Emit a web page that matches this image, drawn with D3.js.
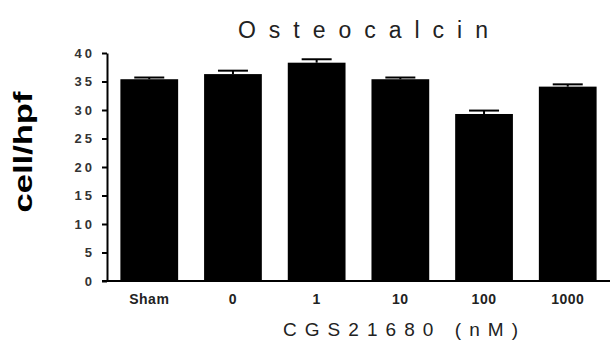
<!DOCTYPE html>
<html>
<head>
<meta charset="utf-8">
<script src="https://cdn.jsdelivr.net/npm/d3@7"></script>
<style>
  body { margin: 0; background: #fff; }
  svg { display: block; font-family: "Liberation Sans", Arial, sans-serif; }
</style>
</head>
<body>
<svg width="610" height="343"></svg>
<script>
const categories = ['Sham', '0', '1', '10', '100', '1000'];
const means = [35.4, 36.3, 38.3, 35.4, 29.3, 34.1];
const errors = [0.3, 0.6, 0.6, 0.3, 0.6, 0.4];
const yTicks = [0, 5, 10, 15, 20, 25, 30, 35, 40];

const svg = d3.select('svg');
const margin = { left: 107, top: 53, right: 0, bottom: 62 };
const width = +svg.attr('width');
const height = +svg.attr('height');
const innerWidth = width - margin.left - margin.right;
const innerHeight = height - margin.top - margin.bottom;

const g = svg.append('g')
  .attr('transform', `translate(${margin.left},${margin.top})`);

// scales
const xScale = d3.scaleBand()
  .domain(categories)
  .range([0, innerWidth])
  .paddingInner(0.31)
  .paddingOuter(0.16);

const yScale = d3.scaleLinear()
  .domain([0, 40])
  .range([innerHeight, 0]);

// bars
g.selectAll('rect.bar').data(means)
  .enter().append('rect')
    .attr('class', 'bar')
    .attr('x', (d, i) => xScale(categories[i]))
    .attr('y', d => yScale(d))
    .attr('width', xScale.bandwidth())
    .attr('height', d => innerHeight - yScale(d))
    .attr('fill', '#000');

// error bars (upper only)
const capHalf = 15;
const err = g.selectAll('g.err').data(means)
  .enter().append('g')
    .attr('class', 'err')
    .attr('transform', (d, i) => `translate(${xScale(categories[i]) + xScale.bandwidth() / 2},0)`);
err.append('line')
  .attr('y1', d => yScale(d))
  .attr('y2', (d, i) => yScale(d + errors[i]))
  .attr('stroke', '#000').attr('stroke-width', 2);
err.append('line')
  .attr('x1', -capHalf).attr('x2', capHalf)
  .attr('y1', (d, i) => yScale(d + errors[i]))
  .attr('y2', (d, i) => yScale(d + errors[i]))
  .attr('stroke', '#000').attr('stroke-width', 2);

// y axis
const yAxisG = g.append('g')
  .call(d3.axisLeft(yScale).tickValues(yTicks).tickSize(5).tickSizeOuter(0).tickPadding(7));
yAxisG.select('.domain').attr('stroke-width', 2);
yAxisG.selectAll('.tick line').attr('stroke-width', 2);
yAxisG.selectAll('.tick text')
  .attr('font-size', 13)
  .attr('font-weight', 'bold')
  .attr('letter-spacing', 3)
  .attr('fill', '#333');

// x axis
const xAxisG = g.append('g')
  .attr('transform', `translate(0,${innerHeight})`)
  .call(d3.axisBottom(xScale).tickSize(0).tickPadding(13));
xAxisG.select('.domain')
  .attr('stroke-width', 2)
  .attr('d', `M-5,0H${innerWidth}`);
xAxisG.selectAll('.tick text')
  .attr('font-size', 14)
  .attr('font-weight', 'bold')
  .attr('letter-spacing', 0.5)
  .attr('fill', '#222');

// axis title
svg.append('text')
  .attr('x', 283)
  .attr('y', 336)
  .attr('font-size', 19)
  .attr('fill', '#222')
  .attr('textLength', 235)
  .attr('lengthAdjust', 'spacing')
  .text('CGS21680 (nM)');

// y label
svg.append('text')
  .attr('transform', 'translate(32,152) rotate(-90)')
  .attr('text-anchor', 'middle')
  .attr('font-size', 26)
  .attr('font-weight', 'bold')
  .attr('textLength', 121)
  .attr('lengthAdjust', 'spacingAndGlyphs')
  .attr('fill', '#000')
  .text('cell/hpf');

// title
svg.append('text')
  .attr('x', 238)
  .attr('y', 38)
  .attr('font-size', 23)
  .attr('fill', '#222')
  .attr('textLength', 250)
  .attr('lengthAdjust', 'spacing')
  .text('Osteocalcin');
</script>
</body>
</html>
